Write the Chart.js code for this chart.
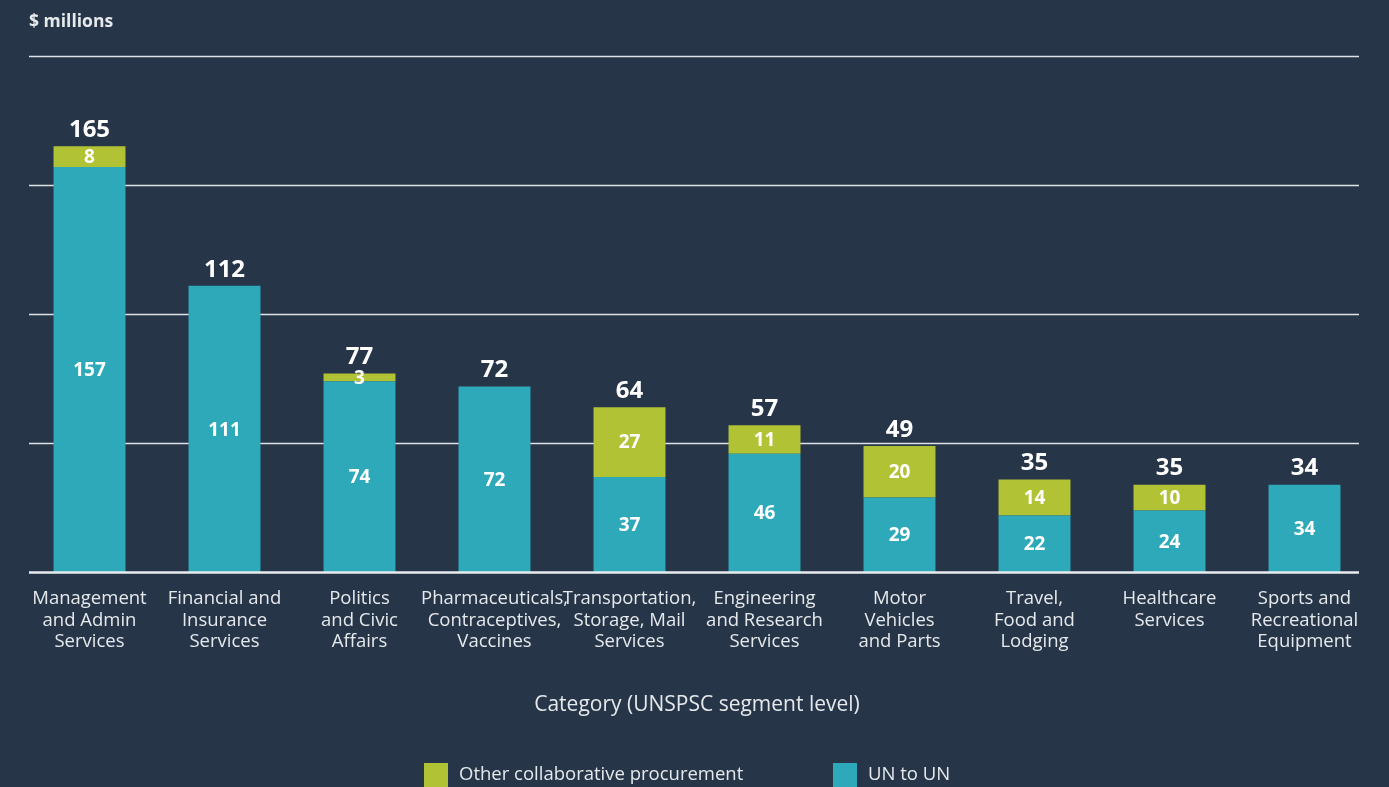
<!DOCTYPE html>
<html>
<head>
<meta charset="utf-8">
<title>Collaborative procurement by category</title>
<script src="https://cdn.jsdelivr.net/npm/chart.js@4.4.1/dist/chart.umd.min.js"></script>
<style>
    html, body { margin: 0; padding: 0; background: #263548; overflow: hidden; }
    #wrap { width: 1389px; height: 787px; position: relative; }
</style>
</head>
<body>
<div id="wrap"><canvas id="myChart"></canvas></div>
<script>
const categories = [
    ["Management", "and Admin", "Services"],
    ["Financial and", "Insurance", "Services"],
    ["Politics", "and Civic", "Affairs"],
    ["Pharmaceuticals,", "Contraceptives,", "Vaccines"],
    ["Transportation,", "Storage, Mail", "Services"],
    ["Engineering", "and Research", "Services"],
    ["Motor", "Vehicles", "and Parts"],
    ["Travel,", "Food and", "Lodging"],
    ["Healthcare", "Services"],
    ["Sports and", "Recreational", "Equipment"]
];
const unToUn = [157, 111, 74, 72, 37, 46, 29, 22, 24, 34];
const otherCollab = [8, 0, 3, 0, 27, 11, 20, 14, 10, 0];
const totals = [165, 112, 77, 72, 64, 57, 49, 35, 35, 34];
const yTicks = [0, 50, 100, 150, 200];

const GREEN = "#b2c235";
const TEAL = "#2ea9b9";
const TEXT = "#e6e9ec";
const FONT = "'Open Sans', 'Noto Sans', sans-serif";

document.addEventListener("DOMContentLoaded", function () {
    let ctx = document.getElementById("myChart").getContext("2d");

    // gridlines behind the bars, baseline on top of them
    const gridPlugin = {
        id: "gridLines",
        beforeDatasetsDraw(chart) {
            const c = chart.ctx;
            const y = chart.scales.y;
            c.save();
            c.strokeStyle = "#dfe3e7";
            c.lineWidth = 1.5;
            yTicks.slice(1).forEach(v => {
                const py = Math.round(y.getPixelForValue(v)) + 0.5;
                c.beginPath();
                c.moveTo(29, py);
                c.lineTo(1359, py);
                c.stroke();
            });
            c.restore();
        },
        afterDatasetsDraw(chart) {
            const c = chart.ctx;
            const y = chart.scales.y;
            const py = y.getPixelForValue(0);
            c.save();
            c.strokeStyle = "#e8ecef";
            c.lineWidth = 2.5;
            c.beginPath();
            c.moveTo(29, py);
            c.lineTo(1359, py);
            c.stroke();
            c.restore();
        }
    };

    // values inside segments and totals above stacks
    const labelPlugin = {
        id: "barLabels",
        afterDatasetsDraw(chart) {
            const c = chart.ctx;
            c.save();
            c.fillStyle = "#ffffff";
            c.textAlign = "center";
            c.textBaseline = "middle";
            c.font = "bold 19px " + FONT;
            chart.data.datasets.forEach((ds, di) => {
                const meta = chart.getDatasetMeta(di);
                meta.data.forEach((bar, i) => {
                    const v = ds.data[i];
                    if (!v) return;
                    c.fillText(String(v), bar.x, (bar.y + bar.base) / 2 + 1);
                });
            });
            c.font = "bold 24px " + FONT;
            totals.forEach((t, i) => {
                let top = Infinity;
                chart.data.datasets.forEach((ds, di) => {
                    const bar = chart.getDatasetMeta(di).data[i];
                    if (ds.data[i] > 0) top = Math.min(top, bar.y);
                });
                const x = chart.getDatasetMeta(0).data[i].x;
                c.fillText(String(t), x, top - 16);
            });
            c.restore();
        }
    };

    // unit label and legend
    const extrasPlugin = {
        id: "extras",
        afterDraw(chart) {
            const c = chart.ctx;
            c.save();
            c.fillStyle = TEXT;
            c.textBaseline = "middle";
            c.textAlign = "left";
            c.font = "bold 17.5px " + FONT;
            c.fillText("$ millions", 29, 22);

            c.font = "18.5px " + FONT;
            const items = [
                { label: chart.data.datasets[1].label, color: GREEN, x: 424, tx: 459 },
                { label: chart.data.datasets[0].label, color: TEAL, x: 833, tx: 868 }
            ];
            items.forEach(it => {
                c.fillStyle = it.color;
                c.fillRect(it.x, 763, 24, 24);
                c.fillStyle = TEXT;
                c.fillText(it.label, it.tx, 775);
            });
            c.restore();
        }
    };

    new Chart(ctx, {
        type: "bar",
        data: {
            labels: categories,
            datasets: [{
                label: "UN to UN",
                data: unToUn,
                backgroundColor: TEAL,
                categoryPercentage: 1,
                barPercentage: 0.533
            }, {
                label: "Other collaborative procurement",
                data: otherCollab,
                backgroundColor: GREEN,
                categoryPercentage: 1,
                barPercentage: 0.533
            }]
        },
        options: {
            responsive: true,
            maintainAspectRatio: false,
            animation: false,
            layout: {
                padding: { top: 56, left: 22, right: 17, bottom: 0 }
            },
            plugins: {
                legend: { display: false },
                tooltip: { enabled: false }
            },
            scales: {
                x: {
                    stacked: true,
                    grid: { display: false, drawTicks: false },
                    border: { display: false },
                    ticks: {
                        color: TEXT,
                        padding: 16,
                        maxRotation: 0,
                        autoSkip: false,
                        font: { family: FONT, size: 18.5, lineHeight: 1.16 }
                    },
                    title: {
                        display: true,
                        text: "Category (UNSPSC segment level)",
                        color: TEXT,
                        font: { family: FONT, size: 21, lineHeight: 1.2 },
                        padding: { top: 24, bottom: 69 }
                    }
                },
                y: {
                    stacked: true,
                    display: false,
                    min: 0,
                    max: 200,
                    ticks: { stepSize: 50 }
                }
            }
        },
        plugins: [gridPlugin, labelPlugin, extrasPlugin]
    });
});
</script>
</body>
</html>
